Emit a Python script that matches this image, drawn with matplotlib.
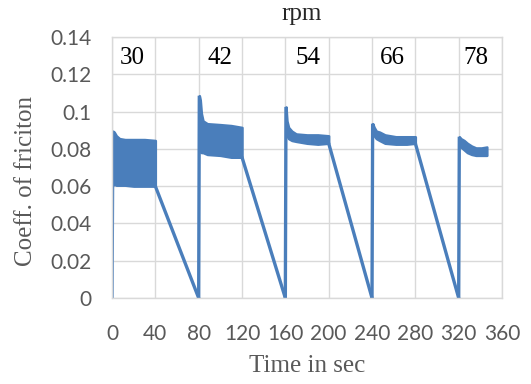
import matplotlib
matplotlib.use('Agg')
import matplotlib.pyplot as plt

# run start times (s) and rpm of each run
run_start = [0, 80, 160, 240, 320]
rpm_labels = ['30', '42', '54', '66', '78']
label_x = [19, 100, 181, 259, 336]

# band envelopes of the friction trace for each run (time, upper, lower)
seg_t = [
    [0.8, 2, 4, 7, 12, 20, 30, 40],
    [80.6, 81.5, 82.5, 84, 88, 100, 110, 120],
    [160.6, 161.5, 163, 166, 170, 180, 190, 200],
    [240.6, 242, 244, 247, 252, 262, 272, 280],
    [320.6, 322, 325, 328, 332, 336, 341, 346],
]
seg_hi = [
    [0.0895, 0.089, 0.087, 0.0855, 0.085, 0.085, 0.085, 0.0845],
    [0.1085, 0.106, 0.099, 0.095, 0.0935, 0.093, 0.0925, 0.0915],
    [0.1025, 0.095, 0.0915, 0.0895, 0.088, 0.0875, 0.0875, 0.087],
    [0.0935, 0.0915, 0.0895, 0.089, 0.0875, 0.0865, 0.0865, 0.0865],
    [0.0865, 0.0855, 0.0845, 0.083, 0.0815, 0.0805, 0.0805, 0.081],
]
seg_lo = [
    [0.0605, 0.061, 0.0605, 0.0605, 0.0605, 0.060, 0.060, 0.060],
    [0.0785, 0.0785, 0.078, 0.078, 0.077, 0.0765, 0.0755, 0.0755],
    [0.089, 0.087, 0.0855, 0.0845, 0.084, 0.083, 0.0825, 0.083],
    [0.088, 0.087, 0.0855, 0.0845, 0.083, 0.0825, 0.0825, 0.083],
    [0.083, 0.081, 0.0795, 0.078, 0.077, 0.0765, 0.0765, 0.0765],
]

yticks = [0, 0.02, 0.04, 0.06, 0.08, 0.1, 0.12, 0.14]
ytick_labels = ['0', '0.02', '0.04', '0.06', '0.08', '0.1', '0.12', '0.14']
xticks = [0, 40, 80, 120, 160, 200, 240, 280, 320, 360]

color = '#4a7ebb'
grid_c = '#d9d9d9'
tick_c = '#595959'

fig = plt.figure(figsize=(5.31, 3.84), dpi=100)
ax = fig.add_axes([112 / 531, 86 / 384, 390 / 531, 261 / 384])

for i in range(len(run_start)):
    t0 = run_start[i]
    t, hi, lo = seg_t[i], seg_hi[i], seg_lo[i]
    # rise at the start of the run
    ax.plot([t0, t[0]], [0, hi[0]], color=color, lw=2.4, solid_capstyle='butt')
    # oscillating friction band
    ax.fill_between(t, lo, hi, color=color, lw=1.8, edgecolor=color)
    # ramp down to the start of the next run
    if i < len(run_start) - 1:
        ax.plot([t[-1], run_start[i + 1]], [lo[-1], 0], color=color, lw=2.4,
                solid_capstyle='round')

for x, lab in zip(label_x, rpm_labels):
    ax.text(x, 0.129, lab, ha='center', va='center', fontsize=18,
            family='Liberation Serif', color='black')

ax.set_xlim(0, 360)
ax.set_ylim(0, 0.14)
ax.set_xticks(xticks)
ax.set_xticklabels([str(v) for v in xticks])
ax.set_yticks(yticks)
ax.set_yticklabels(ytick_labels)
ax.grid(True, color=grid_c, lw=1)
ax.set_axisbelow(True)
for s in ax.spines.values():
    s.set_color(grid_c)
    s.set_linewidth(1)
ax.tick_params(length=0, labelsize=15, labelcolor=tick_c)
ax.tick_params(axis='y', pad=15)
ax.tick_params(axis='x', pad=19)
for lab in ax.get_xticklabels() + ax.get_yticklabels():
    lab.set_family('Lato')

fig.text(302 / 531, 1 - 14 / 384, 'rpm', ha='center', va='center',
         fontsize=18, family='Liberation Serif', color='#262626')
fig.text(307 / 531, 1 - 366 / 384, 'Time in sec', ha='center', va='center',
         fontsize=18, family='Liberation Serif', color=tick_c)
fig.text(26 / 531, 1 - 181 / 384, 'Coeff. of friciton', ha='center', va='center',
         rotation=90, fontsize=18, family='Liberation Serif', color=tick_c)

fig.savefig('out.png', dpi=100)
